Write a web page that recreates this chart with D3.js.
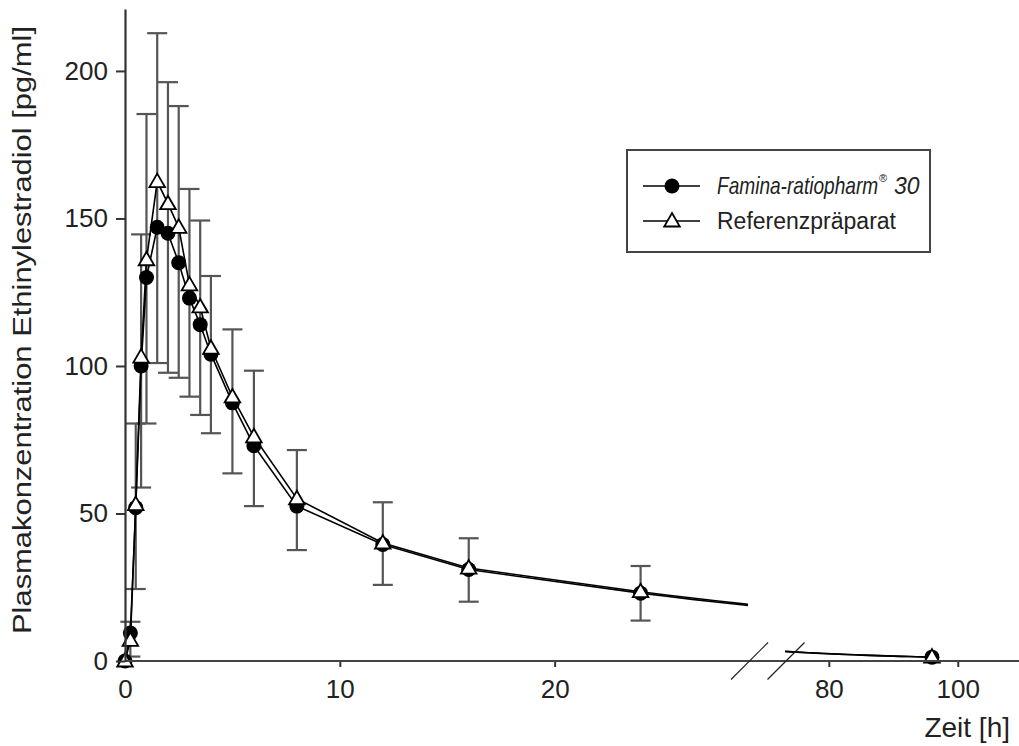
<!DOCTYPE html>
<html>
<head>
<meta charset="utf-8">
<script src="https://cdn.jsdelivr.net/npm/d3@7"></script>
<style>
  body { margin: 0; background: #fff; }
  text { font-family: "Liberation Sans", Arial, sans-serif; fill: #222; }
</style>
</head>
<body>
<svg id="chart" width="1019" height="746"></svg>
<script>
// sampling times [h]
var times = [0, 0.25, 0.5, 0.75, 1, 1.5, 2, 2.5, 3, 3.5, 4, 5, 6, 8, 12, 16, 24, 96];
// mean plasma levels [pg/ml]
var famina   = [0, 9.5, 52, 100, 130, 147, 145, 135, 123, 114, 104, 87.5, 73, 52.5, 39.5, 31, 23, 1.3];
var referenz = [0, 7, 53, 103, 136, 162.5, 155, 147, 127.5, 120, 106, 89.5, 76, 55, 40, 31.5, 23.5, 1.3];
// error bar ends (null = no bar drawn)
var errHigh = [null, 13.3, 80.5, 144.6, 185.4, 212.8, 196.2, 188.1, 160, 149.3, 130.5, 112.4, 98.4, 71.5, 53.8, 41.6, 32.2, null];
var errLow  = [null, 1.5, 24.4, 58.8, 80.5, 101, 97.7, 96, 89.6, 83.4, 77.2, 63.6, 52.5, 37.6, 25.8, 20.1, 13.7, null];

var yTicks = [0, 50, 100, 150, 200];
var xTicksLeft = [0, 10, 20];
var xTicksRight = [80, 100];

var svg = d3.select("#chart");

var y = d3.scaleLinear().domain([0, 221]).range([661, 9]);

// broken time axis: two panels
var panels = [
  { x: d3.scaleLinear().domain([0, 29]).range([125, 748]), ticks: xTicksLeft },
  { x: d3.scaleLinear().domain([73.2, 109.5]).range([785, 1019]), ticks: xTicksRight }
];

// points of the connecting line; the long 24h -> 96h gap is drawn log-linear
function linePoints(vals) {
  var pts = [];
  for (var i = 0; i < times.length; i++) {
    pts.push([times[i], vals[i]]);
    if (i < times.length - 1 && times[i + 1] - times[i] > 24) {
      var t0 = times[i], t1 = times[i + 1], v0 = Math.log(vals[i]), v1 = Math.log(vals[i + 1]);
      d3.range(1, 60).forEach(function(k) {
        var f = k / 60;
        pts.push([t0 + (t1 - t0) * f, Math.exp(v0 + (v1 - v0) * f)]);
      });
    }
  }
  return pts;
}

var defs = svg.append("defs");

panels.forEach(function(p, pi) {
  var r = p.x.range();
  defs.append("clipPath").attr("id", "clip" + pi)
    .append("rect")
    .attr("x", r[0] - 12).attr("y", 0)
    .attr("width", r[1] - r[0] + 12 + (pi == 0 ? 0 : 12)).attr("height", 746);
  // clip line to exact panel width
  defs.append("clipPath").attr("id", "lclip" + pi)
    .append("rect")
    .attr("x", r[0]).attr("y", 0)
    .attr("width", r[1] - r[0]).attr("height", 746);

  var g = svg.append("g");

  // x ticks
  var axis = d3.axisBottom(p.x).tickValues(p.ticks).tickSize(6).tickSizeOuter(0).tickPadding(13);
  var ag = g.append("g").attr("transform", "translate(0," + y(0) + ")").call(axis);
  ag.select(".domain").remove();
  ag.selectAll(".tick line").attr("stroke", "#333").attr("stroke-width", 2);
  ag.selectAll(".tick text").style("font-size", "26px").attr("fill", "#222");

  // error bars
  var eb = g.append("g").attr("clip-path", "url(#clip" + pi + ")");
  times.forEach(function(t, i) {
    if (errHigh[i] == null) return;
    var cx = p.x(t);
    eb.append("line").attr("x1", cx).attr("x2", cx).attr("y1", y(errHigh[i])).attr("y2", y(errLow[i]))
      .attr("stroke", "#555").attr("stroke-width", 2.2);
    [errHigh[i], errLow[i]].forEach(function(v) {
      eb.append("line").attr("x1", cx - 10).attr("x2", cx + 10).attr("y1", y(v)).attr("y2", y(v))
        .attr("stroke", "#555").attr("stroke-width", 2.2);
    });
  });

  var line = d3.line().x(function(d) { return p.x(d[0]); }).y(function(d) { return y(d[1]); });
  var lg = g.append("g").attr("clip-path", "url(#lclip" + pi + ")");
  [famina, referenz].forEach(function(vals) {
    lg.append("path").attr("d", line(linePoints(vals)))
      .attr("fill", "none").attr("stroke", "#000").attr("stroke-width", 1.6);
  });

  var mg = g.append("g").attr("clip-path", "url(#clip" + pi + ")");
  mg.selectAll("circle").data(times.map(function(t, i) { return [t, famina[i]]; }))
    .enter().append("circle")
    .attr("cx", function(d) { return p.x(d[0]); })
    .attr("cy", function(d) { return y(d[1]); })
    .attr("r", 7.5).attr("fill", "#000");
  mg.selectAll("path.tri").data(times.map(function(t, i) { return [t, referenz[i]]; }))
    .enter().append("path").attr("class", "tri")
    .attr("d", d3.symbol(d3.symbolTriangle, 105))
    .attr("transform", function(d) { return "translate(" + p.x(d[0]) + "," + (y(d[1]) + 1) + ")"; })
    .attr("fill", "#fff").attr("stroke", "#000").attr("stroke-width", 1.8);
});

// x axis baseline (continuous through the break)
svg.append("line").attr("x1", 125).attr("x2", 1019).attr("y1", y(0)).attr("y2", y(0))
  .attr("stroke", "#444").attr("stroke-width", 2.2);

// break marks
[panels[0].x.range()[1] + 1.5, panels[1].x.range()[0] + 1].forEach(function(bx) {
  svg.append("line").attr("x1", bx - 18.5).attr("y1", y(0) + 18.5).attr("x2", bx + 18.5).attr("y2", y(0) - 18.5)
    .attr("stroke", "#222").attr("stroke-width", 1.2);
});

// y axis
var yAxis = d3.axisLeft(y).tickValues(yTicks).tickSize(9).tickSizeOuter(0).tickPadding(8);
var yg = svg.append("g").attr("transform", "translate(125,0)").call(yAxis);
yg.select(".domain").attr("stroke", "#333").attr("stroke-width", 2.2);
yg.selectAll(".tick line").attr("stroke", "#333").attr("stroke-width", 2);
yg.selectAll(".tick text").style("font-size", "26px").attr("fill", "#222");

svg.append("text")
  .attr("transform", "translate(31,330) rotate(-90)")
  .attr("text-anchor", "middle")
  .attr("textLength", 608).attr("lengthAdjust", "spacingAndGlyphs")
  .style("font-size", "26px")
  .text("Plasmakonzentration Ethinylestradiol [pg/ml]");

svg.append("text")
  .attr("x", 1010).attr("y", 737)
  .attr("text-anchor", "end")
  .style("font-size", "28px")
  .text("Zeit [h]");

// legend
var leg = svg.append("g").attr("transform", "translate(627,150)");
leg.append("rect").attr("width", 303).attr("height", 102)
  .attr("fill", "#fff").attr("stroke", "#444").attr("stroke-width", 2);
[36, 71].forEach(function(ly, i) {
  leg.append("line").attr("x1", 16).attr("x2", 73).attr("y1", ly).attr("y2", ly)
    .attr("stroke", "#000").attr("stroke-width", 1.6);
  if (i == 0) {
    leg.append("circle").attr("cx", 45).attr("cy", ly).attr("r", 7.5).attr("fill", "#000");
  } else {
    leg.append("path").attr("d", d3.symbol(d3.symbolTriangle, 105))
      .attr("transform", "translate(45," + (ly + 1) + ")")
      .attr("fill", "#fff").attr("stroke", "#000").attr("stroke-width", 1.8);
  }
});
// first entry as separate pieces (narrow italic name, superscript mark, strength)
var nameW = 160;
leg.append("text").attr("transform", "translate(90,44) scale(0.83,1)")
  .style("font-size", "23px").style("font-style", "italic")
  .text("Famina-ratiopharm");
leg.append("text").attr("x", 90 + nameW + 2).attr("y", 32).style("font-size", "11px").text("®");
leg.append("text").attr("x", 90 + nameW + 17).attr("y", 44).style("font-size", "23px").style("font-style", "italic")
  .text("30");
leg.append("text").attr("x", 90).attr("y", 79).style("font-size", "23px").text("Referenzpräparat");
</script>
</body>
</html>
